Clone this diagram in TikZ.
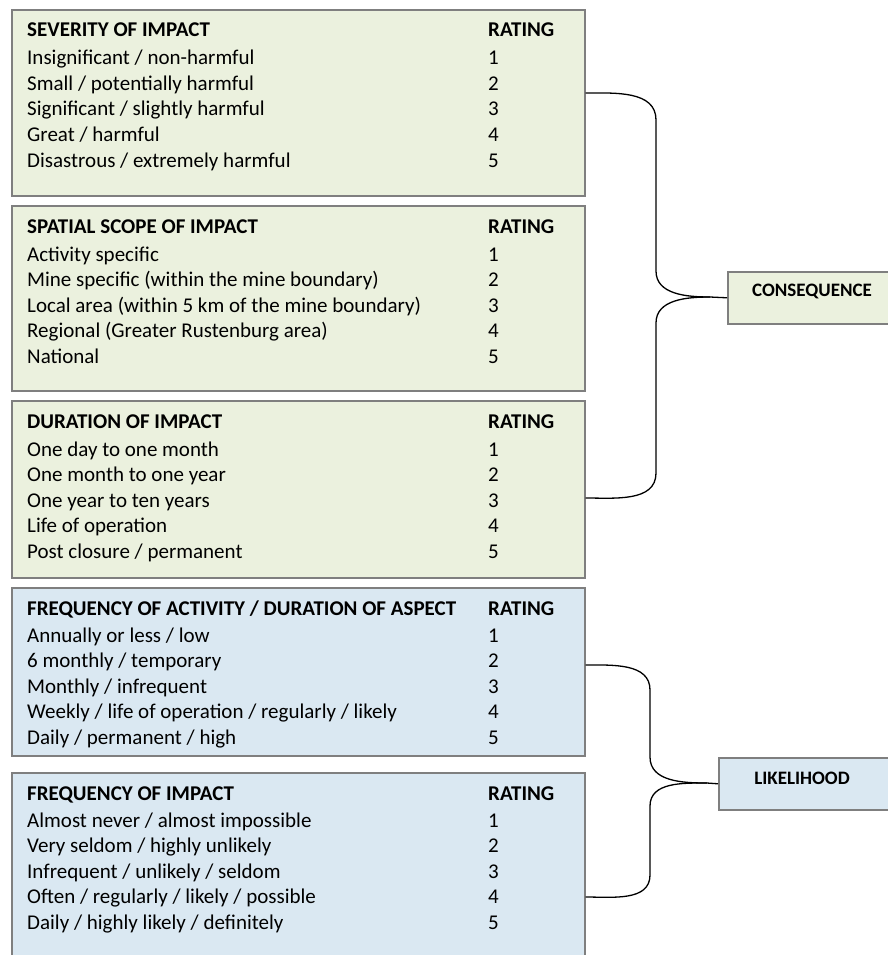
\documentclass[tikz,border=0pt]{standalone}
\usepackage{fontspec}
\setmainfont{Carlito}
\usetikzlibrary{positioning}
\definecolor{boxgreen}{HTML}{EBF1DE}
\definecolor{boxblue}{HTML}{DAE8F2}
\definecolor{boxline}{HTML}{7F7F7F}

\begin{document}
\begin{tikzpicture}[x=1pt, y=-1pt,
  gbox/.style={draw=boxline, line width=1.6pt, fill=boxgreen, anchor=north west, inner sep=0, minimum width=573pt},
  bbox/.style={gbox, fill=boxblue},
  txt/.style={anchor=base west, inner sep=0, font=\fontsize{21}{22}\selectfont},
  hdr/.style={txt, font=\fontsize{21}{22}\selectfont\bfseries},
  lbl/.style={anchor=center, inner sep=0, font=\fontsize{19}{20}\selectfont\bfseries},
  brc/.style={line width=1.3pt}]
\useasboundingbox (0,0) rectangle (887,955);

% consequence tables
\node[gbox, minimum height=186pt] (sev) at (11,9) {};
\node[hdr] (sevh) at (27,37) {SEVERITY OF IMPACT};
\node[hdr] (sevhr) at (488,37) {RATING};
\foreach \t [count=\i] in {Insignificant / non-harmful, Small / potentially harmful,
  Significant / slightly harmful, Great / harmful, Disastrous / extremely harmful} {
  \node[txt] (sev\i) at (27, {65+25.5*(\i-1)}) {\t};
  \node[txt] (sevr\i) at (488, {65+25.5*(\i-1)}) {\i};
}

\node[gbox, minimum height=185pt] (spa) at (11,205) {};
\node[hdr] (spah) at (27,233) {SPATIAL SCOPE OF IMPACT};
\node[hdr] (spahr) at (488,233) {RATING};
\foreach \t [count=\i] in {Activity specific, Mine specific (within the mine boundary),
  Local area (within 5 km of the mine boundary), Regional (Greater Rustenburg area), National} {
  \node[txt] (spa\i) at (27, {261+25.5*(\i-1)}) {\t};
  \node[txt] (spar\i) at (488, {261+25.5*(\i-1)}) {\i};
}

\node[gbox, minimum height=177pt] (dur) at (11,400) {};
\node[hdr] (durh) at (27,428) {DURATION OF IMPACT};
\node[hdr] (durhr) at (488,428) {RATING};
\foreach \t [count=\i] in {One day to one month, One month to one year,
  One year to ten years, Life of operation, Post closure / permanent} {
  \node[txt] (dur\i) at (27, {456+25.5*(\i-1)}) {\t};
  \node[txt] (durr\i) at (488, {456+25.5*(\i-1)}) {\i};
}

% likelihood tables
\node[bbox, minimum height=168pt] (fre) at (11,587) {};
\node[hdr] (freh) at (27,615) {FREQUENCY OF ACTIVITY / DURATION OF ASPECT};
\node[hdr] (frehr) at (488,615) {RATING};
\foreach \t [count=\i] in {Annually or less / low, 6 monthly / temporary,
  Monthly / infrequent, Weekly / life of operation / regularly / likely, Daily / permanent / high} {
  \node[txt] (fre\i) at (27, {642+25.5*(\i-1)}) {\t};
  \node[txt] (frer\i) at (488, {642+25.5*(\i-1)}) {\i};
}

\node[bbox, minimum height=190pt] (fim) at (11,772) {};
\node[hdr] (fimh) at (27,800) {FREQUENCY OF IMPACT};
\node[hdr] (fimhr) at (488,800) {RATING};
\foreach \t [count=\i] in {Almost never / almost impossible, Very seldom / highly unlikely,
  Infrequent / unlikely / seldom, Often / regularly / likely / possible, Daily / highly likely / definitely} {
  \node[txt] (fim\i) at (27, {827+25.5*(\i-1)}) {\t};
  \node[txt] (fimr\i) at (488, {827+25.5*(\i-1)}) {\i};
}

% result boxes
\node[gbox, minimum width=168pt, minimum height=52pt] (con) at (727,271) {};
\node[lbl] (conl) at (812,291) {CONSEQUENCE};
\node[bbox, minimum width=172pt, minimum height=52pt] (lik) at (718,757) {};
\node[lbl] (likl) at (802,778) {LIKELIHOOD};

% braces
\draw[brc] ([yshift=-84pt]sev.north east) to[out=0,in=90] (656,120) -- (656,271)
  to[out=-90,in=180] (710,297) -- (con.west);
\draw[brc] (710,297) to[out=180,in=90] (656,323) -- (656,473)
  to[out=-90,in=0] ([yshift=-98pt]dur.north east);
\draw[brc] ([yshift=-78pt]fre.north east) to[out=0,in=90] (650,690) -- (650,757)
  to[out=-90,in=180] (707,783) -- (lik.west);
\draw[brc] (707,783) to[out=180,in=90] (650,806) -- (650,875)
  to[out=-90,in=0] ([yshift=-125pt]fim.north east);
\end{tikzpicture}
\end{document}
